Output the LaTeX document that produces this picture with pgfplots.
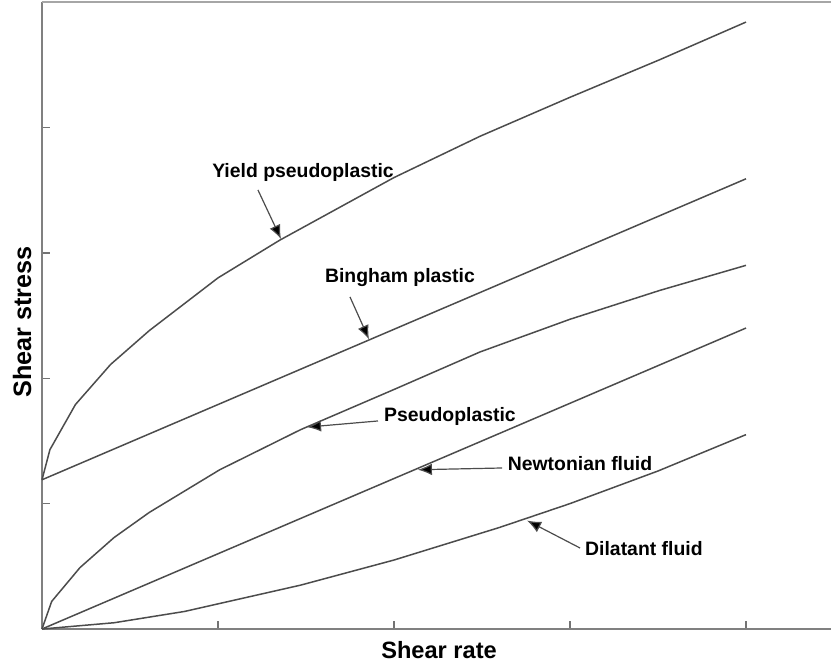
\documentclass[border=0pt]{standalone}
\usepackage{pgfplots}
\pgfplotsset{compat=1.18}
\usepackage{fontspec}
\setmainfont{Liberation Sans}
\usetikzlibrary{arrows.meta}

\newcommand{\anno}{\fontsize{9.7}{11}\selectfont\bfseries}
\newcommand{\axlab}{\fontsize{11.8}{14}\selectfont\bfseries}
\newcommand{\aylab}{\fontsize{12.6}{14}\selectfont\bfseries}
\tikzset{
  annot/.style={draw=black!70, line width=0.6pt, -{Latex[length=7pt,width=5.8pt,fill=black]}},
  curve/.style={draw=black!70, line width=0.75pt, mark=none},
}

\begin{document}
\begin{tikzpicture}
\begin{axis}[
  scale only axis, width=394.5pt, height=313.5pt,
  xmin=0, xmax=4.483, ymin=0, ymax=5,
  axis x line*=bottom, axis y line*=left,
  axis line style={draw=black!50, line width=0.8pt},
  xtick={1,2,3,4}, ytick={1,2,3,4,5},
  xticklabels={}, yticklabels={},
  tick align=inside, major tick length=4pt,
  tick style={draw=black!55, line width=0.7pt},
  clip=false,
]
% top frame line
\draw[black!35, line width=0.8pt] (rel axis cs:0,1) -- (rel axis cs:1,1);
\coordinate (ll) at (rel axis cs:0,0);
\coordinate (ur) at (rel axis cs:1,1);

% Yield pseudoplastic
\addplot[curve] coordinates {(0,1.19) (0.045,1.43) (0.19,1.79) (0.39,2.11) (0.61,2.38)
  (1.0,2.80) (1.35,3.10) (2.0,3.60) (2.49,3.93) (3.0,4.24) (3.51,4.54) (4.0,4.84)};
% Bingham plastic
\addplot[curve] coordinates {(0,1.19) (1.0,1.79) (2.0,2.39) (3.0,2.99) (4.0,3.59)};
% Pseudoplastic
\addplot[curve] coordinates {(0,0) (0.055,0.22) (0.216,0.49) (0.41,0.73) (0.61,0.93)
  (1.01,1.27) (1.47,1.59) (2.0,1.91) (2.49,2.21) (3.0,2.47) (3.51,2.70) (4.0,2.90)};
% Newtonian fluid
\addplot[curve] coordinates {(0,0) (1.0,0.60) (2.0,1.20) (3.0,1.80) (4.0,2.40)};
% Dilatant fluid
\addplot[curve] coordinates {(0,0) (0.41,0.05) (0.81,0.14) (1.47,0.35) (2.0,0.55)
  (2.6,0.81) (3.0,1.0) (3.5,1.26) (4.0,1.55)};

% annotations
\node[font=\anno] at (axis cs:1.483,3.644) {Yield pseudoplastic};
\draw[annot] (axis cs:1.227,3.501) -- (axis cs:1.358,3.11);

\node[font=\anno] at (axis cs:2.034,2.799) {Bingham plastic};
\draw[annot] (axis cs:1.75,2.648) -- (axis cs:1.858,2.31);

\node[font=\anno] at (axis cs:2.318,1.691) {Pseudoplastic};
\draw[annot] (axis cs:1.909,1.659) -- (axis cs:1.506,1.61);

\node[font=\anno] at (axis cs:3.057,1.316) {Newtonian fluid};
\draw[annot] (axis cs:2.614,1.284) -- (axis cs:2.136,1.27);

\node[font=\anno] at (axis cs:3.42,0.638) {Dilatant fluid};
\draw[annot] (axis cs:3.057,0.646) -- (axis cs:2.756,0.865);

% axis titles
\node[font=\axlab] at ([yshift=-10.5pt]axis cs:2.256,0) {Shear rate};
\node[font=\aylab, rotate=90] at ([xshift=-10pt]axis cs:0,2.448) {Shear stress};
\end{axis}
\pgfresetboundingbox
\path[use as bounding box] ([xshift=-21pt,yshift=-18.5pt]ll) rectangle ([yshift=1pt]ur);
\end{tikzpicture}
\end{document}
